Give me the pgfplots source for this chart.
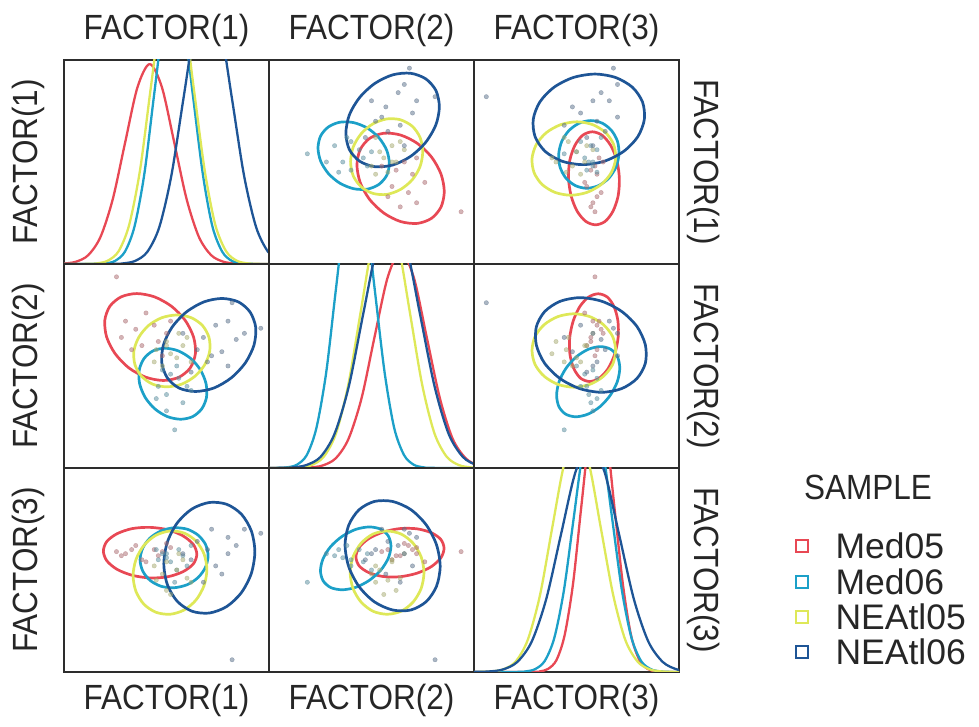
\documentclass[border=0pt]{standalone}
\usepackage{pgfplots}
\pgfplotsset{compat=1.18}
\usepackage{pgfplotstable}
\usepackage{fontspec}
\setmainfont{Liberation Sans}
\newfontfamily\narrowfont{Liberation Sans}[FakeStretch=0.9]

\definecolor{cMedA}{RGB}{232,72,84}    % Med05
\definecolor{cMedB}{RGB}{28,160,200}   % Med06
\definecolor{cAtlA}{RGB}{222,232,88}   % NEAtl05
\definecolor{cAtlB}{RGB}{30,85,150}    % NEAtl06
\definecolor{frame}{RGB}{45,45,45}

% ---------- observations (factor scores, 0-100 scale) ----------
\pgfplotstableread{
f1 f2 f3
25.6 93.7 59
30 72 58
35 68 62
38 60 55
44 70 60
46 62 57
50 66 63
40 76 54
33 58 60
48 55 59
28 64 57
52 72 61
}\ptsMedA
\pgfplotstableread{
f1 f2 f3
54 18.7 44
50 36 56
56 44 60
60 40 52
48 48 58
58 32 57
52 46 54
62 38 62
46 40 55
55 50 50
50 28 58
45 34 60
}\ptsMedB
\pgfplotstableread{
f1 f2 f3
45 58 45
50 62 40
55 54 50
58 60 55
48 50 48
60 64 46
52 56 38
44 52 52
56 66 58
62 52 44
50 60 54
}\ptsAtlA
\pgfplotstableread{
f1 f2 f3
96 68.5 68
82 81 6
88 66 70
84 63 62
80 72 66
77 57 48
74 70 52
70 52 60
68 64 44
65 58 64
62 47 55
58 66 58
72 55 70
80 50 58
}\ptsAtlB

% ---------- confidence ellipses (16 points each) ----------
% pair FACTOR(1)-FACTOR(2)
\pgfplotstableread{
f1 f2
35.5 85.5
44.1 83.9
52.4 79.3
59.1 72.4
63.2 64.2
64.1 56.1
61.6 49.1
56.1 44.5
48.5 42.9
39.9 44.5
31.6 49.1
24.9 56.1
20.8 64.2
19.9 72.4
22.4 79.3
27.9 83.9
}\eAMedA
\pgfplotstableread{
f1 f2
49.3 58.7
55.8 57.4
61.9 53.6
66.6 48.0
69.3 41.3
69.5 34.6
67.2 29.0
62.8 25.2
56.9 23.9
50.4 25.2
44.3 29.0
39.6 34.6
36.9 41.3
36.7 48.0
39.0 53.6
43.4 57.4
}\eAMedB
\pgfplotstableread{
f1 f2
55.1 75.0
62.0 73.7
67.5 69.9
70.7 64.1
71.1 57.4
68.7 50.7
63.9 45.0
57.4 41.1
50.1 39.8
43.2 41.1
37.8 45.0
34.6 50.7
34.1 57.4
36.5 64.1
41.3 69.9
47.8 73.7
}\eAAtlA
\pgfplotstableread{
f1 f2
77.1 83.1
85.1 81.4
90.8 76.4
93.5 69.0
92.7 60.3
88.5 51.6
81.6 44.2
73.1 39.2
64.1 37.5
56.1 39.2
50.4 44.2
47.7 51.6
48.5 60.3
52.7 69.0
59.6 76.4
68.2 81.4
}\eAAtlB
% pair FACTOR(1)-FACTOR(3)
\pgfplotstableread{
f1 f3
64.8 57.7
63.1 62.5
58.1 66.7
50.7 69.7
42.0 70.9
33.3 70.3
25.9 67.8
20.9 64.0
19.2 59.3
20.9 54.5
25.9 50.3
33.3 47.4
42.0 46.1
50.7 46.7
58.1 49.2
63.1 53.0
}\eBMedA
\pgfplotstableread{
f1 f3
70.3 57.0
69.0 62.6
65.4 67.1
60.1 70.0
53.7 70.7
47.4 69.2
42.0 65.7
38.4 60.7
37.1 55.0
38.4 49.5
42.0 44.9
47.4 42.0
53.7 41.3
60.1 42.8
65.4 46.3
69.0 51.3
}\eBMedB
\pgfplotstableread{
f1 f3
69.7 50.2
68.3 57.9
64.4 64.2
58.6 68.1
51.7 69.1
44.8 67.0
39.0 62.1
35.1 55.1
33.7 47.2
35.1 39.5
39.0 33.2
44.8 29.3
51.7 28.3
58.6 30.4
64.4 35.3
68.3 42.3
}\eBAtlA
\pgfplotstableread{
f1 f3
93.1 59.0
91.4 69.1
86.6 77.3
79.4 82.2
70.9 83.1
62.4 79.9
55.2 73.0
50.4 63.6
48.7 53.0
50.4 42.9
55.2 34.7
62.4 29.8
70.9 28.9
79.4 32.1
86.6 39.0
91.4 48.4
}\eBAtlB
% pair FACTOR(2)-FACTOR(3)
\pgfplotstableread{
f2 f3
85.4 60.6
83.8 65.0
79.1 68.3
72.1 70.2
63.9 70.3
55.7 68.6
48.7 65.4
44.0 61.1
42.4 56.4
44.0 52.0
48.7 48.7
55.7 46.8
63.9 46.7
72.1 48.4
79.1 51.6
83.8 55.9
}\eCMedA
\pgfplotstableread{
f2 f3
59.5 61.7
58.2 66.7
54.5 70.0
48.9 71.1
42.3 69.9
35.7 66.5
30.1 61.5
26.4 55.6
25.1 49.7
26.4 44.7
30.1 41.4
35.7 40.3
42.3 41.5
48.9 44.9
54.5 49.9
58.2 55.8
}\eCMedB
\pgfplotstableread{
f2 f3
75.6 48.7
74.2 56.5
70.3 63.1
64.5 67.6
57.6 69.1
50.7 67.6
44.9 63.1
41.0 56.5
39.6 48.7
41.0 40.9
44.9 34.3
50.7 29.8
57.6 28.3
64.5 29.8
70.3 34.3
74.2 40.9
}\eCAtlA
\pgfplotstableread{
f2 f3
83.5 51.8
81.7 62.4
76.7 72.1
69.2 79.6
60.3 83.6
51.4 83.6
43.9 79.5
38.9 72.0
37.1 62.2
38.9 51.6
43.9 41.9
51.4 34.4
60.3 30.4
69.2 30.4
76.7 34.5
81.7 42.0
}\eCAtlB

% ---------- density curves ----------
\pgfplotstableread{
x y
-12 0
-6.2 0.03
-0.2 0.21
5.8 1.09
11.8 4.30
17.8 13.26
23.8 31.82
29.8 59.44
35.8 86.49
41.8 98
47.8 86.49
53.8 59.44
59.8 31.82
65.8 13.26
71.8 4.30
77.8 1.09
83.8 0.21
89.8 0.03
110 0
}\dAMedA
\pgfplotstableread{
x y
-10 0
15.4 0.05
20.2 0.30
24.9 1.5
29.7 6.0
34.4 18.4
39.2 44.2
43.9 82.5
48.7 120.0
53.4 136
58.2 120.0
62.9 82.5
67.7 44.2
72.4 18.4
77.2 6.0
81.9 1.5
86.7 0.30
91.4 0.05
110 0
}\dAMedB
\pgfplotstableread{
x y
-10 0
10.8 0.05
16.1 0.31
21.3 1.6
26.6 6.2
31.8 19.2
37.1 46.1
42.3 86.1
47.6 125.3
52.8 142
58.1 125.3
63.3 86.1
68.6 46.1
73.8 19.2
79.1 6.2
84.3 1.6
89.6 0.31
94.8 0.05
110 0
}\dAAtlA
\pgfplotstableread{
x y
-10 0
22.9 0.04
28.8 0.29
34.7 1.5
40.6 5.9
46.5 18.1
52.4 43.5
58.3 81.3
64.2 118.3
70.1 134
76.0 118.3
81.9 81.3
87.8 43.5
93.7 18.1
99.6 5.9
105.5 1.5
111.4 0.29
117.3 0.04
}\dAAtlB
\pgfplotstableread{
x y
-10 0
13.4 0.04
19.8 0.23
26.1 1.2
32.5 4.7
38.8 14.3
45.2 34.4
51.5 64.3
57.9 93.5
64.2 106
70.6 93.5
76.9 64.3
83.3 34.4
89.6 14.3
96.0 4.7
102.3 1.2
108.7 0.23
115.0 0.04
}\dBMedA
\pgfplotstableread{
x y
-10 0
4.1 0.05
8.9 0.32
13.6 1.6
18.4 6.3
23.1 19.5
27.9 46.8
32.6 87.3
37.4 127.1
42.1 144
46.9 127.1
51.6 87.3
56.4 46.8
61.1 19.5
65.9 6.3
70.6 1.6
75.4 0.32
80.1 0.05
110 0
}\dBMedB
\pgfplotstableread{
x y
-10 0
8.7 0.04
14.7 0.28
20.7 1.4
26.7 5.5
32.7 17.0
38.7 40.9
44.7 76.4
50.7 111.2
56.7 126
62.7 111.2
68.7 76.4
74.7 40.9
80.7 17.0
86.7 5.5
92.7 1.4
98.7 0.28
104.7 0.04
}\dBAtlA
\pgfplotstableread{
x y
-10 0
4.2 0.04
11.2 0.27
18.1 1.4
25.1 5.4
32.0 16.8
39.0 40.3
45.9 75.2
52.9 109.4
59.8 124
66.8 109.4
73.7 75.2
80.7 40.3
87.6 16.8
94.6 5.4
101.5 1.4
108.5 0.27
115.4 0.04
}\dBAtlB
\pgfplotstableread{
x y
-10 0
28.0 0.04
32.1 0.29
36.1 1.5
40.2 5.8
44.2 18.0
48.3 43.2
52.3 80.7
56.4 117.4
60.4 133
64.5 117.4
68.5 80.7
72.6 43.2
76.6 18.0
80.7 5.8
84.7 1.5
88.8 0.29
92.8 0.04
110 0
}\dCMedA
\pgfplotstableread{
x y
-10 0
20.4 0.04
25.1 0.27
29.8 1.4
34.5 5.4
39.2 16.8
43.9 40.3
48.6 75.2
53.3 109.4
58 124
62.7 109.4
67.4 75.2
72.1 40.3
76.8 16.8
81.5 5.4
86.2 1.4
90.9 0.27
95.6 0.04
110 0
}\dCMedB
\pgfplotstableread{
x y
-10 0
2.4 0.04
8.4 0.25
14.3 1.3
20.3 5.1
26.2 15.7
32.2 37.7
38.1 70.4
44.1 102.4
50.0 116
56.0 102.4
61.9 70.4
67.9 37.7
73.8 15.7
79.8 5.1
85.7 1.3
91.7 0.25
97.6 0.04
110 0
}\dCAtlA
\pgfplotstableread{
x y
-12 0
-0.2 0.04
6.9 0.24
14.0 1.2
21.1 4.9
28.2 15.0
35.3 36.0
42.4 67.3
49.5 98.0
56.6 111
63.7 98.0
70.8 67.3
77.9 36.0
85.0 15.0
92.1 4.9
99.2 1.2
106.3 0.24
113.4 0.04
}\dCAtlB

\pgfplotsset{
  panel/.style={
    scale only axis, width=205pt, height=204pt, anchor=north west,
    xmin=0, xmax=100, ymin=0, ymax=100,
    xtick=\empty, ytick=\empty,
    axis line style={draw=frame, line width=2.3pt},
  },
  ell/.style={smooth cycle, line width=2.7pt, line join=round},
  dens/.style={smooth, line width=2.3pt, line join=round, line cap=round},
  dots/.style={only marks, mark=*, mark size=2.2pt, color=#1!40!gray,
    mark options={opacity=0.5}},
}

% scatter panel: x column, y column, position, four ellipse tables
\newcommand{\offpanel}[8]{%
  \begin{axis}[panel, at={(#3,#4)}]
    \addplot[dots=cMedA] table[x=#1, y=#2] {\ptsMedA};
    \addplot[dots=cMedB] table[x=#1, y=#2] {\ptsMedB};
    \addplot[dots=cAtlA] table[x=#1, y=#2] {\ptsAtlA};
    \addplot[dots=cAtlB] table[x=#1, y=#2] {\ptsAtlB};
    \addplot[ell, draw=cMedA] table[x=#1, y=#2] {#5};
    \addplot[ell, draw=cMedB] table[x=#1, y=#2] {#6};
    \addplot[ell, draw=cAtlA] table[x=#1, y=#2] {#7};
    \addplot[ell, draw=cAtlB] table[x=#1, y=#2] {#8};
  \end{axis}}

% density panel: position, four curve tables
\newcommand{\diagpanel}[6]{%
  \begin{axis}[panel, at={(#1,#2)}]
    \addplot[dens, draw=cMedA] table[x=x, y=y] {#3};
    \addplot[dens, draw=cMedB] table[x=x, y=y] {#4};
    \addplot[dens, draw=cAtlA] table[x=x, y=y] {#5};
    \addplot[dens, draw=cAtlB] table[x=x, y=y] {#6};
  \end{axis}}

\newcommand{\labfont}{\narrowfont\fontsize{35}{40}\selectfont}
\newcommand{\legfont}{\fontsize{35.5}{40}\selectfont}

\begin{document}
\begin{tikzpicture}
\path[use as bounding box] (0pt,0pt) rectangle (979pt,727pt);

% row 1
\diagpanel{64pt}{667pt}{\dAMedA}{\dAMedB}{\dAAtlA}{\dAAtlB}
\offpanel{f2}{f1}{269pt}{667pt}{\eAMedA}{\eAMedB}{\eAAtlA}{\eAAtlB}
\offpanel{f3}{f1}{474pt}{667pt}{\eBMedA}{\eBMedB}{\eBAtlA}{\eBAtlB}
% row 2
\offpanel{f1}{f2}{64pt}{463pt}{\eAMedA}{\eAMedB}{\eAAtlA}{\eAAtlB}
\diagpanel{269pt}{463pt}{\dBMedA}{\dBMedB}{\dBAtlA}{\dBAtlB}
\offpanel{f3}{f2}{474pt}{463pt}{\eCMedA}{\eCMedB}{\eCAtlA}{\eCAtlB}
% row 3
\offpanel{f1}{f3}{64pt}{259pt}{\eBMedA}{\eBMedB}{\eBAtlA}{\eBAtlB}
\offpanel{f2}{f3}{269pt}{259pt}{\eCMedA}{\eCMedB}{\eCAtlA}{\eCAtlB}
\diagpanel{474pt}{259pt}{\dCMedA}{\dCMedB}{\dCAtlA}{\dCAtlB}

% variable names
\foreach \xc/\t in {166.5/FACTOR(1), 371.5/FACTOR(2), 576.5/FACTOR(3)} {
  \node[font=\labfont, text=black!85] at (\xc pt, 697pt) {\t};
  \node[font=\labfont, text=black!85] at (\xc pt, 27pt) {\t};
}
\foreach \yc/\t in {565/FACTOR(1), 361/FACTOR(2), 157/FACTOR(3)} {
  \node[font=\labfont, text=black!85, rotate=90] at (28pt, \yc pt) {\t};
  \node[font=\labfont, text=black!85, rotate=-90] at (704pt, \yc pt) {\t};
}

% legend
\node[font=\labfont, text=black!85] at (868pt, 240pt) {SAMPLE};
\foreach \yc/\c/\t in {181/cMedA/Med05, 145/cMedB/Med06, 110/cAtlA/NEAtl05, 75/cAtlB/NEAtl06} {
  \node[draw=\c, line width=1.8pt, minimum size=12pt, inner sep=0pt] at (802pt, \yc pt) {};
  \node[font=\legfont, text=black!85, anchor=west] at (832pt, \yc pt) {\t};
}
\end{tikzpicture}
\end{document}
